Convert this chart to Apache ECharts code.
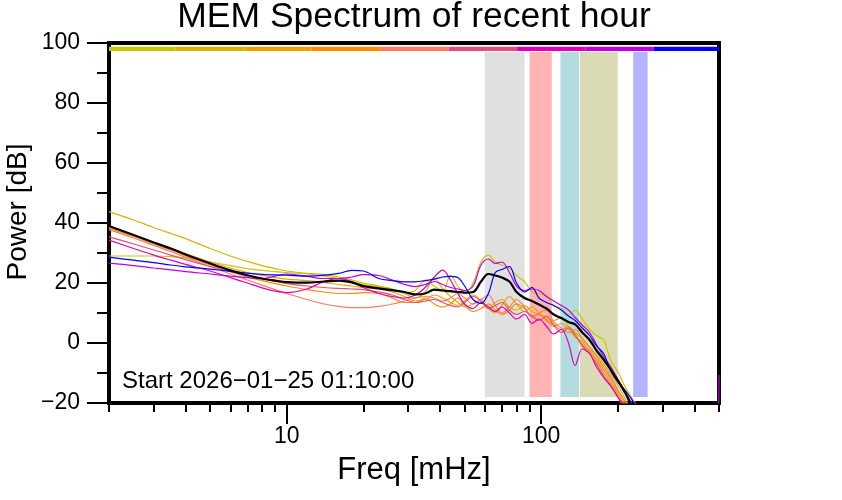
<!DOCTYPE html>
<html>
<head>
<meta charset="utf-8">
<script src="https://cdn.jsdelivr.net/npm/echarts@6/dist/echarts.min.js"></script>
<style>html,body{margin:0;padding:0;background:#fff}#c{width:842px;height:500px}</style>
</head>
<body>
<div id="c"></div>
<script>
const FONT = "'Liberation Sans', Arial, Helvetica, sans-serif";
const TITLE = "MEM Spectrum of recent hour";
const X_NAME = "Freq [mHz]";
const Y_NAME = "Power [dB]";
const START_TEXT = "Start 2026\u221201\u221225 01:10:00";

const FREQ = [2, 2.5, 3, 3.5, 4, 5, 6, 7, 8, 9, 10, 12, 14, 16, 18, 20, 23, 26, 29, 32, 35, 38, 41, 44, 47, 50, 54, 58, 62, 66, 70, 75, 80, 86, 92, 98, 105, 112, 120, 128, 136, 145, 155, 165, 176, 188, 200, 215, 230, 250, 280, 320, 380, 440, 490, 500];

const S_YELLOW = [29, 29, 29, 28.8, 28.3, 27, 25.8, 24.8, 24.2, 23.8, 23.5, 23.0, 22.3, 21.5, 20.5, 19.5, 18.7, 17.8, 16.8, 17.5, 21.0, 19.0, 17.5, 22.5, 19.0, 16.5, 20, 27, 29.3, 27.0, 26.0, 25.0, 22.5, 20.5, 17, 16.5, 15.5, 12.5, 11.5, 9.5, 11.0, 8.0, 4.5, 2.5, 1.0, -6.0, -9.5, -15, -19, -24, -33, -40, -45, -45, -45, -45];
const S_GOLD = [43.8, 41, 38.5, 36.5, 34.8, 31.5, 29.0, 27.2, 25.8, 24.8, 24.0, 23.2, 22.8, 22.0, 21.0, 20.0, 19.0, 18.0, 16.5, 15.0, 17.0, 21.5, 18.0, 15.5, 13.5, 12.0, 13.0, 14.5, 12.0, 13.5, 14.5, 12.0, 11.0, 12.5, 10.5, 9.5, 8.5, 7.5, 8.5, 5.5, 3.5, 1.5, -1.5, -4.0, -7.0, -10.5, -14.0, -19, -24, -28, -34, -40, -45, -45, -45, -45];
const S_ORANGE = [38.5, 36, 33.5, 31.5, 29.8, 27.0, 25.0, 23.5, 22.5, 21.8, 21.3, 20.8, 20.2, 19.5, 19.0, 18.5, 18.0, 17.0, 15.5, 14.0, 14.5, 16.0, 15.0, 13.5, 12.5, 14.0, 16.0, 14.0, 11.5, 10.0, 12.5, 15.5, 13.0, 10.5, 12.0, 10.0, 8.0, 5.5, 6.5, 4.5, 2.0, 0.5, -3.0, -5.5, -9.0, -12.0, -16.0, -21, -25, -29, -35, -40, -45, -45, -45, -45];
const S_DARKORANGE = [38.3, 35.5, 33, 31, 29, 26, 23.8, 22.0, 20.8, 19.8, 19.0, 17.8, 17.0, 16.5, 16.5, 16.8, 16.5, 15.0, 13.5, 13.5, 15.0, 13.0, 12.0, 13.0, 15.0, 12.5, 10.5, 11.5, 13.0, 11.0, 9.5, 11.0, 13.0, 11.5, 9.0, 9.5, 7.5, 6.0, 4.5, 5.5, 3.0, -0.5, -2.5, -6.0, -10.0, -13.0, -17.0, -22, -26, -30, -35, -40, -45, -45, -45, -45];
const S_SALMON = [37.8, 35, 32.5, 30.5, 28.5, 25.5, 23.0, 21.0, 19.3, 17.8, 16.5, 14.5, 13.0, 12.2, 11.8, 11.8, 12.2, 13.0, 14.0, 15.0, 15.5, 15.0, 14.0, 15.0, 16.5, 15.0, 13.0, 14.5, 16.0, 12.5, 10.0, 12.0, 14.5, 12.0, 8.5, 10.0, 11.0, 7.0, 5.0, 3.5, 4.5, 1.5, -1.5, -4.5, -8.0, -11.5, -15.5, -20, -25, -30, -35, -40, -45, -45, -45, -45];
const S_PINK = [35.4, 33, 31, 29.3, 27.8, 25.5, 23.8, 22.5, 21.5, 20.5, 19.8, 19.0, 18.5, 18.2, 18.0, 17.8, 17.0, 16.0, 14.5, 13.5, 14.0, 14.5, 13.5, 12.5, 12.0, 13.5, 15.5, 14.0, 11.5, 12.5, 13.5, 11.0, 9.5, 10.5, 9.0, 7.5, 9.0, 6.0, 3.5, 5.0, 2.5, -1.0, -3.5, -7.0, -11.0, -14.0, -18.0, -23, -27, -31, -36, -40, -45, -45, -45, -45];
const S_MAGENTA = [34.3, 31.5, 29.3, 27.6, 26.2, 24.0, 21.8, 20.0, 18.4, 17.3, 16.8, 18.0, 20.5, 21.5, 20.5, 18.5, 16.5, 15.5, 15.0, 16.0, 18.5, 22.0, 24.3, 21.0, 16.5, 13.0, 11.5, 13.5, 12.0, 10.5, 12.0, 10.0, 8.0, 9.5, 6.5, 8.0, 5.5, 3.0, 4.5, 0.0, -7.5, -2.0, -3.5, -8.0, -11.5, -14.5, -18.0, -22, -27, -31, -36, -40, -45, -45, -45, -45];
const S_PURPLE = [26.6, 25.8, 25.0, 24.4, 23.8, 23.0, 22.3, 21.8, 21.4, 22.3, 23.0, 22.2, 21.5, 21.5, 22.0, 22.8, 22.5, 21.0, 19.5, 18.8, 19.5, 20.5, 19.5, 18.5, 18.0, 17.5, 19.0, 26.0, 28.0, 26.5, 27.0, 23.5, 19.0, 17.5, 18.0, 17.5, 15.5, 14.0, 12.5, 11.0, 8.5, 6.0, 3.5, -0.5, -4.5, -8.0, -12.0, -16.5, -21, -26, -32, -38, -42, -40, -30, -10.7];
const S_BLUE = [28.6, 27.6, 26.8, 26.0, 25.4, 24.6, 23.9, 23.3, 22.9, 22.7, 22.6, 22.3, 22.6, 23.2, 24.2, 24.0, 21.5, 20.8, 20.4, 20.4, 20.8, 21.3, 22.0, 22.2, 21.8, 19.0, 14.5, 13.2, 16.5, 23.5, 24.5, 25.5, 20.0, 17.0, 18.5, 15.0, 13.5, 12.5, 11.0, 9.0, 7.5, 5.0, 2.5, -1.0, -3.5, -9.5, -13.0, -16.0, -19.5, -24, -30, -38, -45, -45, -45, -45];
const S_MEAN = [39, 36, 33.5, 31.5, 29.5, 26.5, 24.2, 22.6, 21.5, 20.8, 20.3, 20.1, 20.5, 20.8, 20.2, 19.0, 18.2, 17.6, 17.0, 16.2, 16.5, 17.8, 17.5, 17.3, 17.0, 16.8, 17.0, 20.5, 23.0, 22.5, 21.8, 20.5, 17.0, 15.0, 14.0, 12.8, 11.5, 9.5, 8.3, 7.0, 6.2, 3.5, 1.0, -2.5, -5.5, -9.0, -12.5, -17, -22, -26, -32, -38, -42, -44, -45, -45];

const SERIES_VALUES = [S_YELLOW, S_GOLD, S_ORANGE, S_DARKORANGE, S_SALMON, S_PINK, S_MAGENTA, S_PURPLE, S_BLUE];
const SERIES_COLORS = ['#c8c800', '#d8b400', '#f0a000', '#ff8c00', '#ff7b66', '#e0507c', '#e000b4', '#c000e0', '#0000ff'];

const BAR_EDGES = [2, 3.65, 6.8, 12.5, 23.3, 43.3, 80.4, 149, 277, 500];
const BAR_LEVEL = 98.05;

const BAND_LO = [60, 90, 119, 142, 230];
const BAND_HI = [86, 110, 141, 200, 262];
const BAND_BOTTOM = -18;
const BAND_TOP = 97;
const BAND_COLORS = ['#e0e0e0', '#ffb3b3', '#b4dcdf', '#dadab4', '#b3b3ff'];

const X_MAJOR = [10, 100];
const X_MINOR = [2, 3, 4, 5, 6, 7, 8, 9, 20, 30, 40, 50, 60, 70, 80, 90, 200, 300, 400, 500];

const chart = echarts.init(document.getElementById('c'), null, {renderer: 'canvas'});

const series = [];
series.push({
  type: 'line', data: [], silent: true,
  markArea: {
    silent: true,
    data: BAND_LO.map((lo, i) => [
      {xAxis: lo, yAxis: BAND_BOTTOM, itemStyle: {color: BAND_COLORS[i], opacity: 1}},
      {xAxis: BAND_HI[i], yAxis: BAND_TOP}
    ])
  }
});
for (let k = 0; k < BAR_EDGES.length - 1; k++) {
  series.push({
    type: 'line', silent: true, symbol: 'none', z: 3,
    data: [[BAR_EDGES[k], BAR_LEVEL], [BAR_EDGES[k + 1], BAR_LEVEL]],
    lineStyle: {color: SERIES_COLORS[k], width: 4.4, cap: 'butt'}
  });
}
SERIES_VALUES.forEach((vals, i) => {
  series.push({
    type: 'line', silent: true, symbol: 'none', smooth: 0.35, z: 4,
    data: FREQ.map((f, j) => [f, vals[j]]),
    lineStyle: {color: SERIES_COLORS[i], width: 1.2}
  });
});
series.push({
  type: 'line', silent: true, symbol: 'none', smooth: 0.35, z: 5,
  data: FREQ.map((f, j) => [f, S_MEAN[j]]),
  lineStyle: {color: '#000', width: 2.2}
});

const option = {
  animation: false,
  backgroundColor: '#fff',
  grid: {left: 109, top: 43, width: 610, height: 360, show: true, borderColor: '#000', borderWidth: 4, backgroundColor: 'transparent'},
  xAxis: [
    {
      type: 'log', logBase: 10, min: 2, max: 500, position: 'bottom',
      axisLine: {show: false, onZero: false}, splitLine: {show: false},
      axisTick: {show: true, length: 21, customValues: X_MAJOR, lineStyle: {color: '#000', width: 2}},
      axisLabel: {show: true, customValues: X_MAJOR, color: '#000', fontSize: 23, fontFamily: FONT, margin: 22}
    },
    {
      type: 'log', logBase: 10, min: 2, max: 500, position: 'bottom',
      axisLine: {show: false, onZero: false}, splitLine: {show: false},
      axisTick: {show: true, length: 9, customValues: X_MINOR, lineStyle: {color: '#000', width: 2}},
      axisLabel: {show: false}
    }
  ],
  yAxis: {
    type: 'value', min: -20, max: 100, interval: 20,
    axisLine: {show: false, onZero: false}, splitLine: {show: false},
    axisTick: {show: true, length: 22, lineStyle: {color: '#000', width: 2}},
    minorTick: {show: true, splitNumber: 2, length: 12, lineStyle: {color: '#000', width: 2}},
    axisLabel: {color: '#000', fontSize: 23, fontFamily: FONT, margin: 29,
      formatter: v => String(v).replace('-', '\u2212')}
  },
  graphic: [
    {type: 'text', x: 414, y: 17, silent: true, style: {text: TITLE, font: '35.5px ' + FONT, fill: '#000', align: 'center', verticalAlign: 'middle'}},
    {type: 'text', x: 414, y: 470, silent: true, style: {text: X_NAME, font: '31px ' + FONT, fill: '#000', align: 'center', verticalAlign: 'middle'}},
    {type: 'text', x: 18, y: 212, rotation: Math.PI / 2, silent: true, style: {text: Y_NAME, font: '28px ' + FONT, fill: '#000', align: 'center', verticalAlign: 'middle'}},
    {type: 'text', x: 122, y: 381, silent: true, z: 10, style: {text: START_TEXT, font: '24px ' + FONT, fill: '#000', align: 'left', verticalAlign: 'middle'}}
  ],
  series: series
};
chart.setOption(option);
</script>
</body>
</html>
